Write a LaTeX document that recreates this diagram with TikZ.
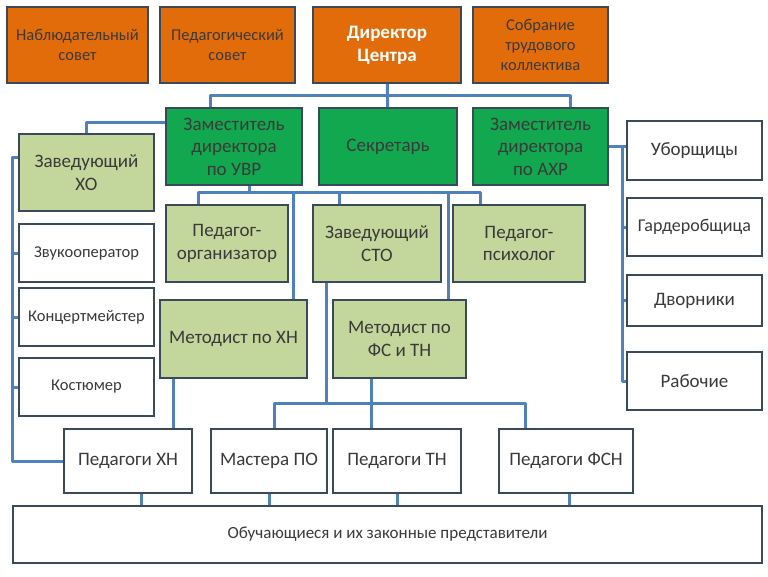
\documentclass[tikz,border=0pt]{standalone}
\usepackage{fontspec}
\setmainfont{Carlito}
\usetikzlibrary{positioning, calc}

\definecolor{orgorange}{HTML}{E36C0A}
\definecolor{orggreen}{HTML}{12A84F}
\definecolor{orglight}{HTML}{C3D69B}
\definecolor{orgline}{HTML}{4F81BD}
\definecolor{orgedge}{HTML}{3B4A5A}
\definecolor{orgtext}{HTML}{3A3A3A}

\begin{document}
\begin{tikzpicture}[
    x=1pt, y=-1pt,
    sz/.style 2 args={minimum width=#1pt, minimum height=#2pt},
    unit/.style={draw=orgedge, line width=1.6pt, inner sep=0pt, align=center,
                 text=orgtext},
    council/.style={unit, fill=orgorange, font=\fontsize{16.5}{20}\selectfont},
    head/.style={council, text=white, font=\fontsize{19}{23}\selectfont\bfseries},
    deputy/.style={unit, fill=orggreen, font=\fontsize{19}{22.5}\selectfont},
    dept/.style={unit, fill=orglight, font=\fontsize{19}{22.5}\selectfont},
    staff/.style={unit, fill=white, font=\fontsize{19}{22.5}\selectfont},
    small/.style={staff, font=\fontsize{16.5}{20}\selectfont},
    link/.style={draw=orgline, line width=3pt, line join=round},
]
  \useasboundingbox (0,0) rectangle (768,576);

  % governing bodies
  \node[council, sz={141}{76}] (nab) at (77.5, 45) {Наблюдательный\\совет};
  \node[council, sz={135}{76}] (pedsov) at (227.5, 45) {Педагогический\\совет};
  \node[head, sz={148}{76}] (dir) at (387, 45) {Директор\\Центра};
  \node[council, sz={135}{76}] (sobr) at (540.5, 45) {Собрание\\трудового\\коллектива};

  % deputies
  \node[deputy, sz={136}{77}] (uvr) at (234, 146.5) {Заместитель\\директора\\по УВР};
  \node[deputy, sz={138}{77}] (sec) at (388, 146.5) {Секретарь};
  \node[deputy, sz={135}{77}] (ahr) at (540.5, 146.5) {Заместитель\\директора\\по АХР};

  % departments
  \node[dept, sz={135}{77}] (xo) at (86.5, 172.5) {Заведующий\\ХО};
  \node[dept, sz={122}{77}] (porg) at (227, 243.5) {Педагог-\\организатор};
  \node[dept, sz={128}{77}] (sto) at (377, 243.5) {Заведующий\\СТО};
  \node[dept, sz={132}{77}] (psy) at (519, 243.5) {Педагог-\\психолог};
  \node[dept, sz={147}{78}] (mxn) at (233.5, 339) {Методист по ХН};
  \node[dept, sz={133}{78}] (mfs) at (399.5, 339) {Методист по\\ФС и ТН};

  % staff of ХО
  \node[small, sz={135}{58}] (zvuk) at (86.5, 253) {Звукооператор};
  \node[small, sz={135}{58}] (konc) at (86.5, 317) {Концертмейстер};
  \node[small, sz={135}{58}] (kost) at (86.5, 387) {Костюмер};

  % staff of АХР
  \node[staff, sz={135}{59}] (ubor) at (694.5, 150.5) {Уборщицы};
  \node[small, sz={135}{58}, font=\fontsize{18}{21}\selectfont] (gard) at (694.5, 227) {Гардеробщица};
  \node[staff, sz={135}{51}] (dvor) at (694.5, 300.5) {Дворники};
  \node[staff, sz={135}{58}] (rab) at (694.5, 381) {Рабочие};

  % teachers
  \node[staff, sz={128}{64}] (pedxn) at (128, 461) {Педагоги ХН};
  \node[staff, sz={116}{64}] (mpo) at (269, 461) {Мастера ПО};
  \node[staff, sz={128}{64}] (ptn) at (397, 461) {Педагоги ТН};
  \node[staff, sz={134}{64}] (fsn) at (566, 461) {Педагоги ФСН};
  \node[small, sz={749}{57}, font=\fontsize{17}{20}\selectfont] (obuch) at (387.5, 534.5)
    {Обучающиеся и их законные представители};

  \coordinate (bus2) at (249, 192);
  \coordinate (bus3) at (326, 403);

  % director level
  \draw[link] (dir) -- (sec);
  \draw[link] ([xshift=-24pt]uvr.north) -- ++(0,-12) -| ([xshift=30pt]ahr.north);
  \draw[link] ([yshift=24.5pt]uvr.west) -| (xo.north);

  % ХО branch
  \draw[link] ([yshift=15pt]xo.west) -- ++(-6,0) |- (pedxn.west);
  \foreach \n in {zvuk, konc, kost}
    \draw[link] (\n.west) -- ++(-6,0);

  % АХР branch
  \draw[link] (ahr.east) -- (ahr.east -| ubor.west);
  \draw[link] (ahr.east) ++(14,0) |- (rab.west);
  \foreach \n in {gard, dvor}
    \draw[link] (\n.west) -- ++(-5,0);

  % УВР branch
  \draw[link] ([xshift=15pt]uvr.south) -- (bus2);
  \draw[link] ([xshift=-29pt]porg.north) |- (bus2) -| ([xshift=-39pt]psy.north);
  \foreach \n/\s in {sto/-38, mxn/60, mfs/48.5}
    \draw[link] ([xshift=\s pt]\n.north) |- (bus2);

  % methodists to teachers
  \draw[link] ([xshift=-60pt]mxn.south) -- ([xshift=-60pt]mxn.south |- pedxn.north);
  \draw[link] ([xshift=-51pt]sto.south) -- (bus3);
  \draw[link] ([xshift=5pt]mpo.north) |- (bus3) -| ([xshift=-41pt]fsn.north);
  \draw[link] ([xshift=-28pt]mfs.south) -- ([xshift=-28pt]mfs.south |- ptn.north);

  % teachers to students
  \foreach \n/\s in {pedxn/13, mpo/0, ptn/0, fsn/3}
    \draw[link] ([xshift=\s pt]\n.south) -- ([xshift=\s pt]\n.south |- obuch.north);
\end{tikzpicture}
\end{document}
